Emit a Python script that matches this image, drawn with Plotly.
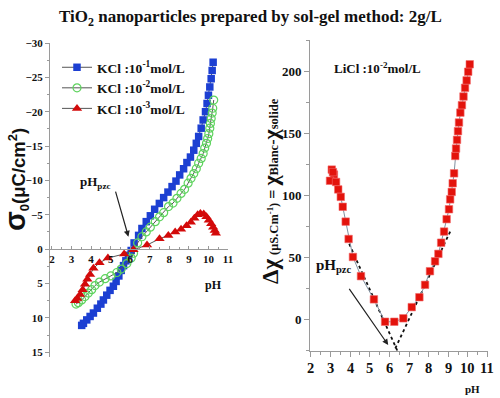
import plotly.graph_objects as go

# ---------------- data ----------------
blue_ph = [3.52, 3.61, 3.78, 3.95, 4.12, 4.32, 4.5, 4.63, 4.8, 4.97, 5.14, 5.28, 5.42, 5.54, 5.66,
           5.78, 5.91, 6.05, 6.2, 6.43, 6.6, 6.82, 7.03, 7.25, 7.49, 7.71, 7.93, 8.14, 8.34, 8.53,
           8.73, 8.9, 9.08, 9.25, 9.38, 9.5, 9.63, 9.73, 9.85, 9.93, 10.0, 10.07, 10.14, 10.19, 10.24]
blue_sigma = [11.1, 10.8, 10.3, 9.8, 9.3, 8.6, 8.0, 7.4, 6.7, 6.0, 5.4, 4.7, 3.9, 3.1, 2.4,
              1.7, 0.9, 0.2, -0.9, -2.0, -3.0, -4.0, -4.85, -5.8, -6.65, -7.5, -8.3, -9.1, -9.9, -10.8,
              -11.7, -12.6, -13.4, -14.4, -15.4, -16.4, -17.6, -18.8, -20.0, -21.2, -22.4, -23.6, -24.8, -26.0, -27.2]

green_ph = [3.23, 3.35, 3.52, 3.69, 3.86, 4.03, 4.2, 4.43, 4.72, 5.01, 5.32, 5.54, 5.83, 6.05, 6.17,
            6.38, 6.6, 6.82, 7.03, 7.28, 7.5, 7.71, 7.96, 8.19, 8.39, 8.6, 8.78, 8.96, 9.11, 9.25,
            9.38, 9.5, 9.63, 9.73, 9.81, 9.9, 9.96, 10.02, 10.07, 10.1, 10.14, 10.19, 10.22, 10.27]
green_sigma = [8.0, 7.8, 7.4, 6.9, 6.4, 5.9, 5.3, 4.8, 4.3, 3.9, 3.4, 2.9, 2.1, 1.3, 0.6,
               -0.9, -1.8, -2.5, -3.2, -4.0, -4.7, -5.3, -6.2, -6.7, -7.4, -8.1, -8.7, -9.6, -10.3, -11.0,
               -11.7, -12.5, -13.2, -13.9, -14.7, -15.4, -16.1, -16.8, -17.6, -18.3, -19.0, -19.8, -20.5, -21.7]

red_ph = [3.18, 3.3, 3.44, 3.57, 3.69, 3.81, 3.95, 4.12, 4.43, 4.86, 5.69, 6.17, 6.86, 7.5, 7.95,
          8.3, 8.6, 8.88, 9.1, 9.28, 9.45, 9.59, 9.76, 9.9, 10.02, 10.14, 10.24, 10.32, 10.38]
red_sigma = [7.5, 7.2, 6.6, 5.9, 5.1, 4.4, 3.7, 2.8, 2.0, 1.3, 0.7, 0.1, -0.6, -1.5, -2.0,
             -2.5, -2.9, -3.4, -3.9, -4.5, -5.0, -5.2, -5.1, -4.7, -4.2, -3.7, -3.2, -2.7, -2.3]

series_names = ["KCl :10<sup>-1</sup>mol/L", "KCl :10<sup>-2</sup>mol/L", "KCl :10<sup>-3</sup>mol/L"]

cond_ph = [3.06, 3.17, 2.97, 3.12, 3.28, 3.39, 3.52, 3.62, 3.77, 3.92, 4.14, 4.55, 5.21, 5.78, 6.25,
           6.71, 7.14, 7.53, 7.82, 8.07, 8.33, 8.5, 8.64, 8.79, 8.92, 9.04, 9.1, 9.18, 9.23, 9.3,
           9.36, 9.4, 9.45, 9.5, 9.55, 9.62, 9.7, 9.78, 9.86, 9.94, 10.02, 10.1]
cond_val = [121, 117, 112, 119, 111, 105, 99, 91, 79, 65, 50.5, 35, 16.3, -1.8, -1.8,
            1, 10, 18, 28, 39, 47, 53, 62, 71, 81, 89, 97, 103, 110, 118,
            132, 138, 145, 152, 159, 167, 173, 180, 187, 193, 200, 206]

# tangent (fit) lines of the conductivity curve
acid_fit_ph = [3.95, 6.4]
acid_fit_val = [61, -25]
base_fit_ph = [9.1, 6.25]
base_fit_val = [71, -25]

left_yticks = [-30, -25, -20, -15, -10, -5, 0, 5, 10, 15]
left_xticks = [2, 3, 4, 5, 6, 7, 8, 9, 10, 11]
right_yticks = [0, 50, 100, 150, 200]
right_xticks = [2, 3, 4, 5, 6, 7, 8, 9, 10, 11]

# ---------------- layout geometry ----------------
W, H = 500, 398
SERIF = "Liberation Serif, Times New Roman, serif"
SANS = "Liberation Sans, Arial, sans-serif"
INK = "#111111"
AXC = "#9a9a9a"


def px_x(p):
    return p / W


def px_y(p):
    return 1 - p / H


def bfont(size, family=SERIF):
    return dict(family=family, size=size, color=INK, weight="bold")


L_YRANGE = [15.7, -30]
L_YDOM = [px_y(357), px_y(43)]
L_XPOS = L_YDOM[0] + (L_YRANGE[0] - 0) / (L_YRANGE[0] - L_YRANGE[1]) * (L_YDOM[1] - L_YDOM[0])

fig = go.Figure()

line_style = dict(color="#555555", width=1)
fig.add_trace(go.Scatter(x=blue_ph, y=blue_sigma, mode="lines+markers", name=series_names[0],
                         line=line_style,
                         marker=dict(symbol="square", size=7.5, color="#1c3fd2", line=dict(width=0)),
                         xaxis="x", yaxis="y"))
fig.add_trace(go.Scatter(x=green_ph, y=green_sigma, mode="lines+markers", name=series_names[1],
                         line=line_style,
                         marker=dict(symbol="circle-open", size=8, color="#5ed35e", line=dict(width=1.2)),
                         xaxis="x", yaxis="y"))
fig.add_trace(go.Scatter(x=red_ph, y=red_sigma, mode="lines+markers", name=series_names[2],
                         line=line_style,
                         marker=dict(symbol="triangle-up", size=9, color="#d30a0a", line=dict(width=0)),
                         xaxis="x", yaxis="y"))

fig.add_trace(go.Scatter(x=acid_fit_ph, y=acid_fit_val, mode="lines", showlegend=False,
                         line=dict(color="#111111", width=1.8, dash="dot"), xaxis="x2", yaxis="y2"))
fig.add_trace(go.Scatter(x=base_fit_ph, y=base_fit_val, mode="lines", showlegend=False,
                         line=dict(color="#111111", width=1.8, dash="dot"), xaxis="x2", yaxis="y2"))
fig.add_trace(go.Scatter(x=cond_ph, y=cond_val, mode="lines+markers", showlegend=False,
                         line=dict(color="#8090a0", width=1),
                         marker=dict(symbol="square", size=7.5, color="#e3130c",
                                     line=dict(width=0.6, color="#f26a6a")),
                         xaxis="x2", yaxis="y2"))

axis_common = dict(showgrid=False, zeroline=False, showline=True, linecolor=AXC, linewidth=1,
                   tickcolor=AXC, ticklabeloverflow="allow")

fig.update_layout(
    width=W, height=H,
    margin=dict(l=0, r=0, t=0, b=0, autoexpand=False),
    paper_bgcolor="white", plot_bgcolor="rgba(0,0,0,0)",
    xaxis=dict(axis_common, domain=[px_x(50), px_x(228)], range=[1.9, 11.0],
               anchor="free", position=L_XPOS,
               tickmode="array", tickvals=left_xticks, ticks="inside", ticklen=3,
               minor=dict(ticks="inside", ticklen=2, dtick=0.5, tickcolor=AXC),
               tickfont=bfont(11)),
    yaxis=dict(axis_common, domain=L_YDOM, range=L_YRANGE, anchor="x",
               tickmode="array", tickvals=left_yticks, ticks="outside", ticklen=4,
               minor=dict(ticks="outside", ticklen=2, dtick=2.5, tickcolor=AXC),
               tickfont=bfont(11)),
    xaxis2=dict(axis_common, domain=[px_x(310), px_x(488)], range=[1.95, 11.03], anchor="y2",
                tickmode="array", tickvals=right_xticks, ticks="outside", ticklen=5,
                showticklabels=False,
                minor=dict(ticks="outside", ticklen=3, dtick=0.5, tickcolor=AXC)),
    yaxis2=dict(axis_common, domain=[px_y(351), px_y(40)], range=[-25.4, 225.6], anchor="x2",
                tickmode="array", tickvals=right_yticks, ticks="outside", ticklen=5,
                minor=dict(ticks="outside", ticklen=3, dtick=25, tickcolor=AXC),
                tickfont=bfont(13)),
    legend=dict(x=px_x(57), y=px_y(52), xanchor="left", yanchor="top",
                bgcolor="rgba(0,0,0,0)", borderwidth=0, itemwidth=30, tracegroupgap=0,
                font=bfont(13.5)),
    showlegend=True,
)


def label(text, x, y, size, family=SERIF, angle=0):
    return dict(text=text, x=px_x(x), y=px_y(y), xref="paper", yref="paper", showarrow=False,
                xanchor="center", yanchor="middle", textangle=angle, font=bfont(size, family))


annotations = [
    label("<b>TiO<sub>2</sub> nanoparticles prepared by sol-gel method: 2g/L</b>", 250, 18, 17),
    label("<b><span style='font-size:29px'>σ</span><sub>0</sub>(μC/cm<sup>2</sup>)</b>",
          16, 180, 18.5, SANS, -90),
    label("<b>pH<sub>pzc</sub></b>", 95, 182, 13),
    dict(text="", x=5.91, y=-1.8, xref="x", yref="y", ax=5.23, ay=-8.6, axref="x", ayref="y",
         showarrow=True, arrowhead=2, arrowsize=1, arrowwidth=1.2, arrowcolor="#222222"),
    label("<b>pH</b>", 213, 285, 12),
    label("<b>LiCl :10<sup>-2</sup>mol/L</b>", 377, 68, 13),
    label("<b>pH<sub>pzc</sub></b>", 334, 266, 15),
    dict(text="", x=5.94, y=-20.6, xref="x2", yref="y2", ax=3.9, ay=26, axref="x2", ayref="y2",
         showarrow=True, arrowhead=2, arrowsize=1, arrowwidth=1.2, arrowcolor="#222222"),
    label("<b>pH</b>", 472, 389, 11),
    label("<b><span style='font-size:23px'>Δχ</span> <span style='font-size:12.5px'>(μS.Cm<sup>-1</sup>)</span> = "
          "<span style='font-size:22px'>χ</span><span style='font-size:12.5px'>Blanc</span>-"
          "<span style='font-size:22px'>χ</span><span style='font-size:12.5px'>solide</span></b>",
          270, 191, 16, SERIF, -90),
]
# right-panel x tick labels placed on the x2 scale
for t in right_xticks:
    annotations.append(dict(text=f"<b>{t}</b>", x=t, y=px_y(368), xref="x2", yref="paper",
                            showarrow=False, xanchor="center", yanchor="middle",
                            font=bfont(14.5)))
fig.update_layout(annotations=annotations)

fig.write_html(
    "out.html",
    post_script=("document.body.style.margin='0';"
                 "document.body.style.overflow='hidden';"
                 "document.documentElement.style.overflow='hidden';"),
    config={"displayModeBar": False},
)
